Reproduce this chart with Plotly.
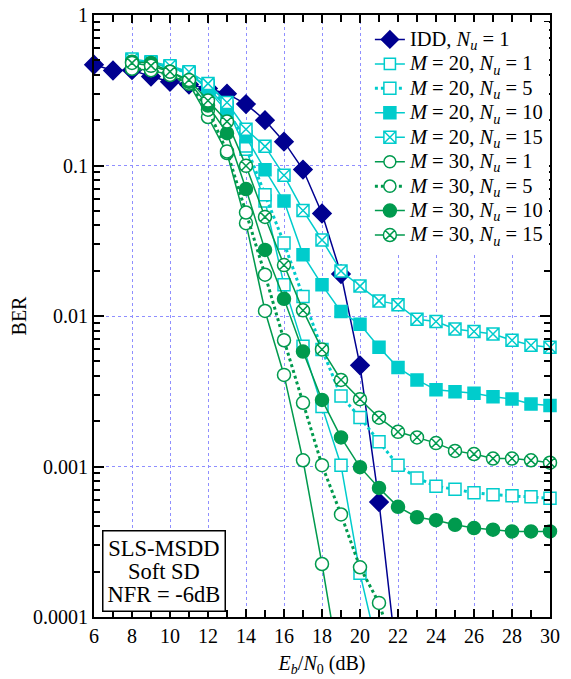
import plotly.graph_objects as go

# ---------------- data ----------------
x_idd = [6, 7, 8, 9, 10, 11, 12, 13, 14, 15, 16, 17, 18, 19, 20, 21, 22]
ber_idd = [0.467, 0.428, 0.43, 0.39, 0.36, 0.345, 0.325, 0.30, 0.256, 0.20, 0.144,
           0.094, 0.048, 0.019, 0.0047, 0.00058, 0.000044]

x_m = list(range(8, 31))

ber_m20_nu1 = [0.50, 0.48, 0.45, 0.41, 0.33, 0.24, 0.128, 0.058, 0.0161, 0.0063,
               0.0025, 0.00102, 0.000195, 0.000056]
ber_m20_nu5 = [0.49, 0.47, 0.45, 0.41, 0.34, 0.245, 0.135, 0.064, 0.0305, 0.0135,
               0.0060, 0.00294, 0.00212, 0.00146, 0.00102, 0.00084, 0.00074,
               0.000705, 0.00067, 0.00065, 0.00064, 0.00063, 0.000615]
ber_m20_nu10 = [0.50, 0.48, 0.45, 0.41, 0.32, 0.228, 0.155, 0.0936, 0.058, 0.0255,
                0.0161, 0.0107, 0.0088, 0.0062, 0.00454, 0.00376, 0.00323, 0.00314,
                0.00307, 0.00291, 0.00281, 0.0026, 0.00254]
ber_m20_nu15 = [0.51, 0.49, 0.46, 0.42, 0.35, 0.262, 0.174, 0.134, 0.0861, 0.0503,
                0.032, 0.0199, 0.0158, 0.0126, 0.0119, 0.0095, 0.0092, 0.0082,
                0.0079, 0.0076, 0.0069, 0.0064, 0.0062]
ber_m30_nu1 = [0.44, 0.43, 0.40, 0.35, 0.21, 0.121, 0.0414, 0.0108, 0.00406,
               0.0011, 0.000225, 0.00004]
ber_m30_nu5 = [0.44, 0.43, 0.40, 0.35, 0.235, 0.124, 0.0487, 0.0188, 0.0069,
               0.00265, 0.00102, 0.00048, 0.000214, 0.000124, 0.00005]
ber_m30_nu10 = [0.49, 0.48, 0.42, 0.36, 0.25, 0.164, 0.0697, 0.0275, 0.013, 0.0058,
                0.00277, 0.00156, 0.00099, 0.00072, 0.00054, 0.00046, 0.00044,
                0.00041, 0.00039, 0.00038, 0.00037, 0.00037, 0.00037]
ber_m30_nu15 = [0.48, 0.46, 0.42, 0.37, 0.27, 0.196, 0.0995, 0.0455, 0.0218, 0.0109,
                0.0060, 0.00376, 0.0028, 0.00211, 0.0017, 0.00156, 0.00143, 0.00127,
                0.00121, 0.00113, 0.00113, 0.0011, 0.00106]

x_ticks = [6, 8, 10, 12, 14, 16, 18, 20, 22, 24, 26, 28, 30]
y_ticks = [1, 0.1, 0.01, 0.001, 0.0001]
y_ticktext = ["1", "0.1", "0.01", "0.001", "0.0001"]

legend_names = [
    "IDD, <i>N<sub>u</sub></i> = 1",
    "<i>M</i> = 20, <i>N<sub>u</sub></i> = 1",
    "<i>M</i> = 20, <i>N<sub>u</sub></i> = 5",
    "<i>M</i> = 20, <i>N<sub>u</sub></i> = 10",
    "<i>M</i> = 20, <i>N<sub>u</sub></i> = 15",
    "<i>M</i> = 30, <i>N<sub>u</sub></i> = 1",
    "<i>M</i> = 30, <i>N<sub>u</sub></i> = 5",
    "<i>M</i> = 30, <i>N<sub>u</sub></i> = 10",
    "<i>M</i> = 30, <i>N<sub>u</sub></i> = 15",
]
box_lines = ["SLS-MSDD", "Soft SD", "NFR = -6dB"]

# ---------------- styles ----------------
NAVY = "#000090"
CYAN = "#00cccc"
GREEN = "#009a4e"
FONT = "Liberation Serif"


def big(s, px):
    return '<span style="font-size:%spx">%s</span>' % (px, s)


fig = go.Figure()


def add(xs, ys, name, color, symbol, fill, dash="solid", lw=1.5, size=12):
    xs = xs[:len(ys)]
    sizes = [size if v >= 1e-4 else 0 for v in ys]
    fig.add_trace(go.Scatter(
        x=xs, y=ys, name=big(name, 20.5), mode="lines+markers",
        line=dict(color=color, width=lw, dash=dash),
        marker=dict(symbol=symbol, size=sizes, color=fill, opacity=1,
                    line=dict(color=color, width=1.5)),
        cliponaxis=False,
    ))


add(x_idd, ber_idd, legend_names[0], NAVY, "diamond", NAVY, size=14)
add(x_m, ber_m20_nu1, legend_names[1], CYAN, "square", "white", size=12)
add(x_m, ber_m20_nu5, legend_names[2], CYAN, "square", "white", dash="dot", lw=3, size=12)
add(x_m, ber_m20_nu10, legend_names[3], CYAN, "square", CYAN, size=12)
add(x_m, ber_m20_nu15, legend_names[4], CYAN, "square-x", "white", size=12)
add(x_m, ber_m30_nu1, legend_names[5], GREEN, "circle", "white", size=13)
add(x_m, ber_m30_nu5, legend_names[6], GREEN, "circle", "white", dash="dot", lw=3, size=13)
add(x_m, ber_m30_nu10, legend_names[7], GREEN, "circle", GREEN, size=13)
add(x_m, ber_m30_nu15, legend_names[8], GREEN, "circle-x", "white", size=13)

fig.add_annotation(
    x=0.1535, y=0.0764, xref="paper", yref="paper",
    xanchor="center", yanchor="middle",
    text="<br>".join(big(s, 22.5) for s in box_lines),
    showarrow=False, align="center",
    font=dict(family=FONT, size=17.7, color="black"),
    bgcolor="white", bordercolor="black", borderwidth=1.5, borderpad=4,
)

axis_common = dict(
    showline=True, linecolor="black", linewidth=2, mirror="ticks",
    ticks="inside", tickcolor="black", tickwidth=1.5,
    showgrid=True, gridcolor="#8f8fff", griddash="dot", gridwidth=1,
    zeroline=False, automargin=False,
    tickfont=dict(family=FONT, size=20, color="black"),
)

minor_x = list(range(7, 30, 2))
minor_y = [k * 10.0 ** e for e in range(-4, 0) for k in range(2, 10)]

fig.update_xaxes(
    range=[6, 30], tickvals=x_ticks, ticklen=8,
    minor=dict(ticks="inside", tickvals=minor_x, ticklen=7, tickcolor="black",
               tickwidth=1.5, showgrid=False),
    title=dict(text="<i>E<sub>b</sub></i>/<i>N</i><sub>0</sub> (dB)",
               font=dict(family=FONT, size=20, color="black"), standoff=10),
    **axis_common,
)
fig.update_yaxes(
    type="log", range=[-4, 0], tickvals=y_ticks, ticktext=y_ticktext, ticklen=10,
    minor=dict(ticks="inside", tickvals=minor_y, ticklen=6, tickcolor="black",
               tickwidth=1.5, showgrid=False),
    title=dict(text="BER", font=dict(family=FONT, size=20, color="black"), standoff=1),
    **axis_common,
)

fig.update_layout(
    width=571, height=679,
    margin=dict(l=94, r=21, t=15, b=62),
    plot_bgcolor="white", paper_bgcolor="white",
    font=dict(family=FONT, size=18, color="black"),
    showlegend=True,
    legend=dict(
        x=0.605, y=0.988, xanchor="left", yanchor="top",
        bgcolor="white", borderwidth=0,
        font=dict(family=FONT, size=16.5, color="black"),
        tracegroupgap=0, itemwidth=30,
    ),
)

fig.write_html(
    "out.html",
    config={"displayModeBar": False},
    post_script="document.body.style.margin='0';document.body.style.overflow='hidden';",
)
